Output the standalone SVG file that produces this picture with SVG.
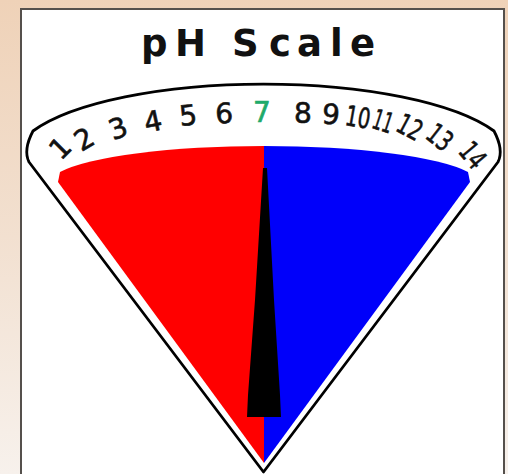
<svg xmlns="http://www.w3.org/2000/svg" width="508" height="474" viewBox="0 0 508 474">
  <defs>
    <linearGradient id="bg" x1="0" y1="0" x2="0" y2="1">
      <stop offset="0" stop-color="#efd2b8"/>
      <stop offset="0.5" stop-color="#f2e0d0"/>
      <stop offset="1" stop-color="#f7f1ec"/>
    </linearGradient>
    <style>
      .num { font-family: "DejaVu Sans", "Liberation Sans", sans-serif; font-size: 28px; fill: #111; stroke: #111; stroke-width: 0.6px; text-anchor: middle; }
      .title { font-family: "DejaVu Sans", "Liberation Sans", sans-serif; font-size: 37px; font-weight: bold; fill: #111; }
    </style>
  </defs>
  <rect x="0" y="0" width="508" height="474" fill="url(#bg)"/>
  <rect id="panel" x="21" y="9" width="483" height="475" fill="#ffffff" stroke="#55504c" stroke-width="2"/>

  <g id="title">
    <text class="title" x="141 175 215 232 269 297 330 350" y="56">pH Scale</text>
  </g>

  <g id="gauge">
    <path d="M 263.5,472 L 29,162 Q 23,150 33,131 A 250 76.5 0 0 1 494,131 Q 504,150 498,162 Z" fill="#ffffff" stroke="#000" stroke-width="2.8" stroke-linejoin="round"/>
    <path id="acid" d="M 264,463 L 58,182 L 60,172 A 215 38 0 0 1 264,146 Z" fill="#ff0000"/>
    <path id="base" d="M 264,463 L 264,146 A 215 38 0 0 1 468,172 L 470,182 Z" fill="#0000fa"/>
    <path id="needle" d="M 263,168 L 267,168 L 274,300 L 280,395 L 281,417 L 247,417 L 248,395 L 255,300 Z" fill="#000"/>
  </g>

  <g id="scale">
    <g transform="translate(60,148) rotate(-45)"><text class="num" y="10">1</text></g>
    <g transform="translate(84,139) rotate(-30)"><text class="num" y="10">2</text></g>
    <g transform="translate(118,128) rotate(-20)"><text class="num" y="10">3</text></g>
    <g transform="translate(153,121) rotate(-12)"><text class="num" y="10">4</text></g>
    <g transform="translate(188,115) rotate(-6)"><text class="num" y="10">5</text></g>
    <g transform="translate(224,113) rotate(-3)"><text class="num" y="10">6</text></g>
    <g transform="translate(262,112)"><text class="num" y="10" style="fill:#1faa6a;stroke:#1faa6a">7</text></g>
    <g transform="translate(303,113)"><text class="num" y="10">8</text></g>
    <g transform="translate(331,114) rotate(5)"><text class="num" y="10">9</text></g>
    <g transform="translate(358,117) rotate(10)"><text class="num" y="10" textLength="25" lengthAdjust="spacingAndGlyphs">10</text></g>
    <g transform="translate(383,121) rotate(18)"><text class="num" y="10" textLength="20" lengthAdjust="spacingAndGlyphs">11</text></g>
    <g transform="translate(410,127) rotate(28)"><text class="num" y="10" textLength="25" lengthAdjust="spacingAndGlyphs">12</text></g>
    <g transform="translate(440,137) rotate(38)"><text class="num" y="10" textLength="25" lengthAdjust="spacingAndGlyphs">13</text></g>
    <g transform="translate(473,155) rotate(50)"><text class="num" y="10" textLength="25" lengthAdjust="spacingAndGlyphs">14</text></g>
  </g>
</svg>
